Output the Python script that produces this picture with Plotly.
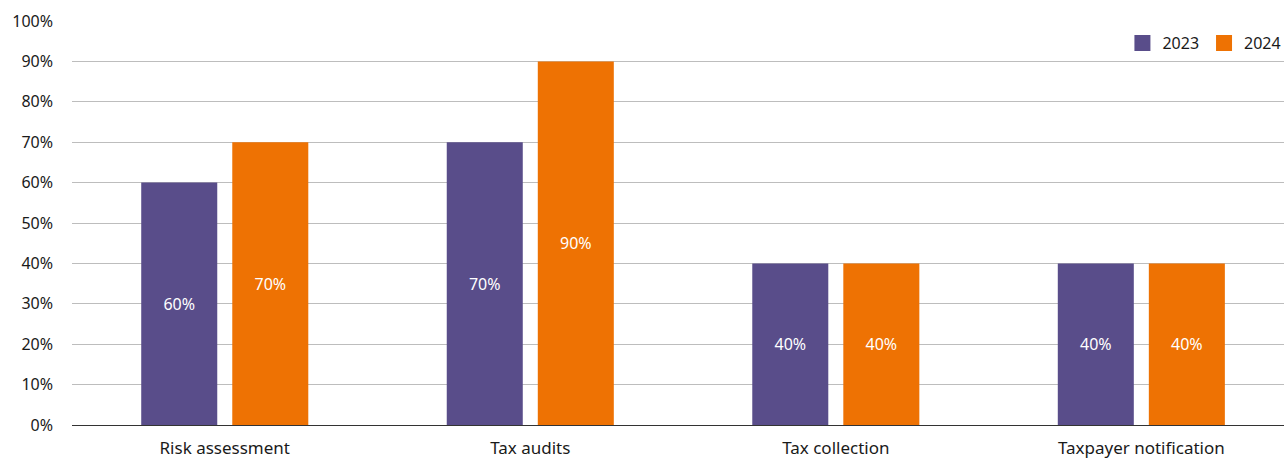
import plotly.graph_objects as go

categories = ["Risk assessment", "Tax audits", "Tax collection", "Taxpayer notification"]
values_2023 = [60, 70, 40, 40]
values_2024 = [70, 90, 40, 40]
series_names = ["2023", "2024"]
colors = ["#594D8A", "#EE7203"]

FONT = "Noto Sans"

fig = go.Figure()
for name, vals, col in zip(series_names, [values_2023, values_2024], colors):
    fig.add_trace(go.Bar(
        x=categories, y=vals, name=name, marker=dict(color=col, line=dict(width=0)),
        text=[f"{v}%" for v in vals], textposition="inside", insidetextanchor="middle",
        textfont=dict(color="white", size=16, family=FONT), hoverinfo="skip",
        showlegend=False, legendgroup=name,
    ))
# legend entries with larger square swatches
for name, col in zip(series_names, colors):
    fig.add_trace(go.Scatter(
        x=[categories[0]], y=[None], mode="markers", name=name, legendgroup=name,
        marker=dict(symbol="square", size=16, color=col), hoverinfo="skip",
    ))

fig.update_layout(
    width=1284, height=459,
    margin=dict(l=72, r=0, t=21, b=34, autoexpand=False),
    paper_bgcolor="white", plot_bgcolor="white",
    barmode="group", bargap=0.404, bargroupgap=0.165,
    font=dict(family=FONT, size=16, color="#1a1a1a"),
    showlegend=True,
    legend=dict(orientation="h", x=1.002, xanchor="right", y=0.945, yanchor="middle",
                font=dict(size=16, family=FONT), itemwidth=30, traceorder="normal",
                itemsizing="trace", bgcolor="rgba(0,0,0,0)"),
    xaxis=dict(range=[-0.5, 3.467], showgrid=False, showline=False, zeroline=False,
               ticks="", ticklabelstandoff=11, tickfont=dict(size=17), automargin=False),
    yaxis=dict(range=[0, 100], dtick=10, ticksuffix="%", showgrid=True,
               gridcolor="#BDBDBD", gridwidth=1, zeroline=True, zerolinecolor="#333333",
               zerolinewidth=1, showline=False, ticks="", ticklabelstandoff=18,
               tickfont=dict(size=16), automargin=False),
)

fig.write_html("out.html", config={"displayModeBar": False},
               post_script="document.body.style.margin='0';document.body.style.overflow='hidden';")
